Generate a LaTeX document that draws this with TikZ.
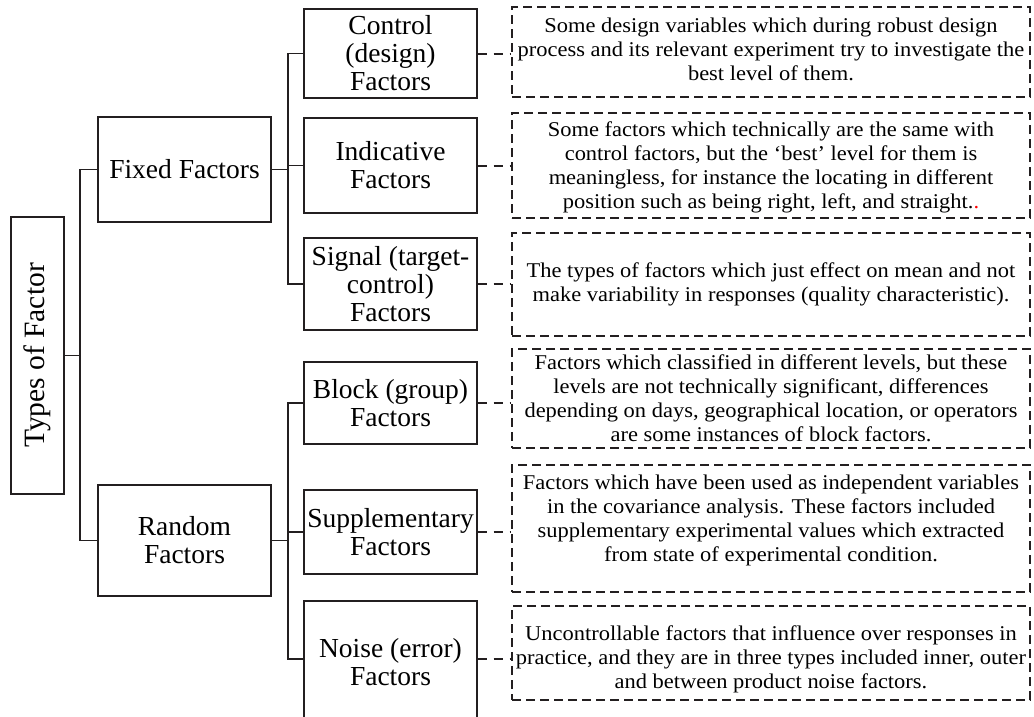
\documentclass[tikz,border=0pt]{standalone}
\usepackage{fontspec}
\setmainfont{Liberation Serif}
\newfontfamily\descfont[FakeStretch=1.07]{Liberation Serif}
\definecolor{ink}{RGB}{35,31,32}
\begin{document}
\begin{tikzpicture}[x=1pt,y=-1pt,
  solidbox/.style={draw=ink, line width=1.4pt, inner sep=0pt, align=center,
    font=\fontsize{27.5}{28}\selectfont},
  descbox/.style={draw=ink, line width=2pt, dash pattern=on 9pt off 5pt, inner sep=0pt},
  desctext/.style={align=center, inner sep=0pt, font=\descfont\fontsize{21}{24}\selectfont},
  tree/.style={draw=ink, line width=1.4pt},
  link/.style={draw=ink, line width=2pt, dash pattern=on 9pt off 7pt}]
\useasboundingbox (0,0) rectangle (1034,716);
\clip (0,0) rectangle (1034,716);

% solid boxes
\node[solidbox, rotate=90, minimum width=277pt, minimum height=53pt,
  font=\fontsize{29.5}{30}\selectfont] (root) at (37.5,355.5) {Types of Factor};
\node[solidbox, minimum width=173pt, minimum height=105pt] (fixed) at (184.5,169.5) {Fixed Factors};
\node[solidbox, minimum width=173pt, minimum height=111pt] (random) at (184.5,540.5) {Random\\Factors};
\node[solidbox, minimum width=173pt, minimum height=89pt] (control) at (390.5,53.5) {Control\\(design)\\Factors};
\node[solidbox, minimum width=173pt, minimum height=95pt] (indicative) at (390.5,165.5) {Indicative\\Factors};
\node[solidbox, minimum width=173pt, minimum height=92pt] (signal) at (390.5,284) {Signal (target-\\control)\\Factors};
\node[solidbox, minimum width=173pt, minimum height=82pt] (block) at (390.5,403) {Block (group)\\Factors};
\node[solidbox, minimum width=173pt, minimum height=84pt] (supp) at (390.5,532) {Supplementary\\Factors};
\node[solidbox, minimum width=173pt, minimum height=122pt] (noise) at (390.5,662) {Noise (error)\\Factors};

% dashed description boxes
\node[descbox, minimum width=518pt, minimum height=90pt] (d1) at (771,52) {};
\node[descbox, minimum width=518pt, minimum height=105pt] (d2) at (771,165.5) {};
\node[descbox, minimum width=518pt, minimum height=103pt] (d3) at (771,284.5) {};
\node[descbox, minimum width=518pt, minimum height=99pt] (d4) at (771,398.5) {};
\node[descbox, minimum width=518pt, minimum height=127pt] (d5) at (771,528.5) {};
\node[descbox, minimum width=518pt, minimum height=94pt] (d6) at (771,653) {};

\node[desctext] (t1) at (771,49) {Some design variables which during robust design\\process and its relevant experiment try to investigate the\\best level of them.};
\node[desctext] (t2) at (771,167) {Some factors which technically are the same with\\control factors, but the ‘best’ level for them is\\meaningless, for instance the locating in different\\position such as being right, left, and straight.{\color{red}.}};
\node[desctext] (t3) at (771,284) {The types of factors which just effect on mean and not\\make variability in responses (quality characteristic).};
\node[desctext] (t4) at (771,398) {Factors which classified in different levels, but these\\levels are not technically significant, differences\\depending on days, geographical location, or operators\\are some instances of block factors.};
\node[desctext] (t5) at (771,520) {Factors which have been used as independent variables\\in the covariance analysis. These factors included\\supplementary experimental values which extracted\\from state of experimental condition.};
\node[desctext] (t6) at (771,659) {Uncontrollable factors that influence over responses in\\practice, and they are in three types included inner, outer\\and between product noise factors.};

% tree connectors
\coordinate (j1) at (80,355.5);
\coordinate (j2) at (288,169.5);
\coordinate (j3) at (288,540.5);
\coordinate (nt) at (304,659);
\draw[tree] (root.south) -- (j1);
\draw[tree] (fixed.west) -| (j1) |- (random.west);
\draw[tree] (fixed.east) -- (j2);
\draw[tree] (control.west) -| (j2) |- (signal.west);
\draw[tree] (j2 |- indicative.west) -- (indicative.west);
\draw[tree] (random.east) -- (j3);
\draw[tree] (block.west) -| (j3) |- (nt);
\draw[tree] (j3 |- supp.west) -- (supp.west);

% dashed links
\draw[link] (control.east) -- (control.east -| d1.west);
\draw[link] (indicative.east) -- (indicative.east -| d2.west);
\draw[link] (signal.east) -- (signal.east -| d3.west);
\draw[link] (block.east) -- (block.east -| d4.west);
\draw[link] (supp.east) -- (supp.east -| d5.west);
\draw[link] (noise.east |- t6) -- (t6 -| d6.west);
\end{tikzpicture}
\end{document}
